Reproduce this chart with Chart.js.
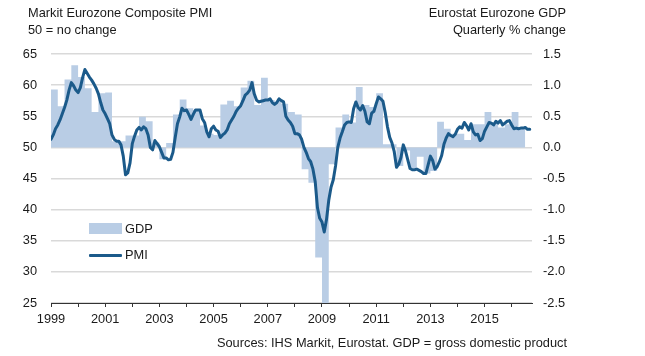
<!DOCTYPE html>
<html>
<head>
<meta charset="utf-8">
<script src="https://cdn.jsdelivr.net/npm/chart.js@4.4.1/dist/chart.umd.min.js"></script>
<style>
  html, body { margin: 0; padding: 0; background: #fff; }
  #wrap { position: relative; width: 645px; height: 356px; overflow: hidden;
          font-family: "Liberation Sans", Arial, sans-serif; color: #1a1a1a; }
  #c { position: absolute; left: 0; top: 0; }
  .t { position: absolute; font-size: 12.8px; line-height: 14px; white-space: nowrap; }
  .r { text-align: right; }
  #gdpBox { position: absolute; left: 89px; top: 223px; width: 33px; height: 11px; background: #b9cde5; }
  #pmiLine { position: absolute; left: 89px; top: 254px; width: 33px; height: 3px; background: #1b5a8a; border-radius: 1px; }
</style>
</head>
<body>
<div id="wrap">
  <canvas id="c" width="645" height="356"></canvas>
  <div class="t" style="left:28px; top:6px;">Markit Eurozone Composite PMI</div>
  <div class="t" style="left:28px; top:23px;">50 = no change</div>
  <div class="t r" style="right:79px; top:6px;">Eurostat Eurozone GDP</div>
  <div class="t r" style="right:79px; top:23px;">Quarterly % change</div>
  <div id="gdpBox"></div>
  <div class="t" style="left:125px; top:222px;">GDP</div>
  <div id="pmiLine"></div>
  <div class="t" style="left:125px; top:248px;">PMI</div>
  <div class="t r" style="right:78px; top:336px;">Sources: IHS Markit, Eurostat. GDP = gross domestic product</div>
</div>
<script>
// ---- Data ----
const startYear = 1999;
// Monthly Markit Eurozone Composite PMI, Jan 1999 .. Sep 2016
const pmiValues = [
  51.3, 52.0, 53.0, 53.6, 54.4, 55.4, 56.4, 57.6, 59.2, 60.4, 59.9, 59.2,   // 1999
  58.8, 59.6, 61.2, 62.5, 61.9, 61.3, 60.8, 60.2, 59.5, 58.6, 57.2, 56.0,   // 2000
  55.4, 54.6, 53.8, 52.0, 51.3, 51.0, 51.0, 50.4, 48.6, 45.6, 45.9, 47.5,   // 2001
  50.6, 51.8, 52.8, 53.2, 52.8, 53.3, 53.0, 52.0, 50.0, 49.6, 51.1, 50.6,   // 2002
  50.1, 49.2, 48.3, 48.3, 48.0, 48.1, 49.2, 51.6, 53.8, 54.9, 56.3, 55.9,   // 2003
  56.0, 55.3, 54.5, 55.3, 56.0, 56.0, 56.0, 54.6, 54.0, 52.5, 51.7, 53.0,   // 2004
  53.4, 52.8, 52.6, 51.6, 52.0, 52.3, 52.8, 53.8, 54.4, 55.0, 55.8, 56.3,   // 2005
  56.7, 57.5, 58.4, 58.7, 59.2, 60.4, 58.6, 57.6, 57.3, 57.4, 57.5, 57.6,   // 2006
  57.6, 57.8, 57.2, 56.9, 57.2, 57.8, 57.5, 57.3, 55.0, 54.4, 54.0, 53.4,   // 2007
  52.2, 52.2, 52.0, 51.3, 50.0, 49.2, 48.2, 47.7, 46.5, 44.5, 40.3, 38.6,   // 2008
  38.0, 36.4, 38.4, 41.5, 43.6, 44.8, 47.0, 50.0, 51.5, 52.5, 53.6, 54.0,   // 2009
  54.1, 54.0, 56.2, 57.3, 56.4, 56.0, 56.7, 55.8, 54.1, 53.8, 55.5, 55.8,   // 2010
  57.0, 58.1, 57.8, 57.4, 55.6, 53.3, 51.6, 50.7, 49.3, 46.8, 47.3, 48.4,   // 2011
  50.4, 49.4, 48.0, 46.6, 46.4, 46.4, 46.5, 46.3, 46.1, 45.8, 45.8, 47.2,   // 2012
  48.6, 47.9, 46.5, 46.9, 47.7, 48.7, 50.5, 51.5, 52.2, 51.9, 51.7, 52.1,   // 2013
  52.9, 53.3, 53.1, 54.0, 53.5, 52.8, 53.8, 52.5, 52.0, 52.1, 51.1, 51.4,   // 2014
  52.6, 53.3, 54.0, 53.9, 53.6, 54.2, 53.9, 54.3, 53.6, 53.9, 54.2, 54.3,   // 2015
  53.6, 53.0, 53.1, 53.0, 53.1, 53.1, 53.2, 52.9, 52.9                      // 2016
];
// Quarterly Eurozone GDP % change, 1999Q1 .. 2016Q2
const gdpValues = [
  0.93, 0.66, 1.09, 1.32,   // 1999
  1.13, 0.95, 0.57, 0.87,   // 2000
  0.88, 0.10, 0.10, 0.19,   // 2001
  0.19, 0.49, 0.42, 0.08,   // 2002
  -0.19, 0.07, 0.53, 0.77,  // 2003
  0.63, 0.60, 0.35, 0.22,   // 2004
  0.20, 0.69, 0.75, 0.66,   // 2005
  0.96, 1.07, 0.68, 1.12,   // 2006
  0.76, 0.74, 0.70, 0.57,   // 2007
  0.53, -0.35, -0.57, -1.77,// 2008
  -2.90, -0.27, 0.32, 0.53, // 2009
  0.40, 0.97, 0.68, 0.65,   // 2010
  0.87, 0.05, 0.05, -0.30,  // 2011
  -0.05, -0.33, -0.15, -0.42,// 2012
  -0.38, 0.41, 0.30, 0.22,  // 2013
  0.22, 0.12, 0.37, 0.37,   // 2014
  0.57, 0.40, 0.32, 0.37,   // 2015
  0.57, 0.31                // 2016
];
const xTickLabels = ['1999', '2001', '2003', '2005', '2007', '2009', '2011', '2013', '2015'];
const pmiTicks = [25, 30, 35, 40, 45, 50, 55, 60, 65];
const gdpTicks = [-2.5, -2.0, -1.5, -1.0, -0.5, 0.0, 0.5, 1.0, 1.5];

// ---- Build series points ----
const pmiPoints = pmiValues.map((v, i) => ({ x: startYear + i / 12, y: v }));
const gdpPoints = gdpValues.map((v, q) => ({ x: startYear + q / 4, y: v }));
gdpPoints.push({ x: startYear + gdpValues.length / 4, y: gdpValues[gdpValues.length - 1] });

const FONT = { family: '"Liberation Sans", Arial, sans-serif', size: 12.8 };
const TXT = '#1a1a1a';

new Chart(document.getElementById('c'), {
  type: 'line',
  data: {
    datasets: [
      {
        label: 'PMI',
        data: pmiPoints,
        yAxisID: 'y',
        borderColor: '#1b5a8a',
        borderWidth: 3,
        pointRadius: 0,
        tension: 0,
        borderJoinStyle: 'round',
        borderCapStyle: 'round',
        fill: false,
        order: 0
      },
      {
        label: 'GDP',
        data: gdpPoints,
        yAxisID: 'y2',
        stepped: 'before',
        borderWidth: 0,
        borderColor: 'rgba(0,0,0,0)',
        backgroundColor: '#b9cde5',
        pointRadius: 0,
        fill: { value: 0 },
        order: 1
      }
    ]
  },
  options: {
    responsive: false,
    animation: false,
    devicePixelRatio: 1,
    layout: { padding: { top: 54, left: 0, right: 0, bottom: 0 } },
    plugins: { legend: { display: false }, tooltip: { enabled: false } },
    scales: {
      x: {
        type: 'linear',
        min: 1999,
        max: 2016.75,
        offset: false,
        afterFit: s => { s.height = 53; },
        ticks: {
          stepSize: 1,
          includeBounds: false,
          autoSkip: false,
          maxRotation: 0,
          padding: 5,
          color: TXT,
          font: FONT,
          callback: v => (xTickLabels.includes(String(v)) ? String(v) : '')
        },
        grid: { drawOnChartArea: false, drawTicks: true, tickLength: 4, tickColor: '#333', lineWidth: 1 },
        border: { display: true, color: '#333', width: 1 }
      },
      y: {
        position: 'left',
        min: 25,
        max: 65,
        afterFit: s => { s.width = 51; },
        afterBuildTicks: s => { s.ticks = pmiTicks.map(v => ({ value: v })); },
        ticks: { padding: 14, color: TXT, font: FONT },
        grid: { color: '#d9d9d9', lineWidth: 1.5, drawTicks: false },
        border: { display: false }
      },
      y2: {
        position: 'right',
        min: -2.5,
        max: 1.5,
        afterFit: s => { s.width = 113; },
        afterBuildTicks: s => { s.ticks = gdpTicks.map(v => ({ value: v })); },
        ticks: { padding: 11, color: TXT, font: FONT, callback: v => Number(v).toFixed(1) },
        grid: { drawOnChartArea: false, drawTicks: false },
        border: { display: false }
      }
    }
  }
});
</script>
</body>
</html>
